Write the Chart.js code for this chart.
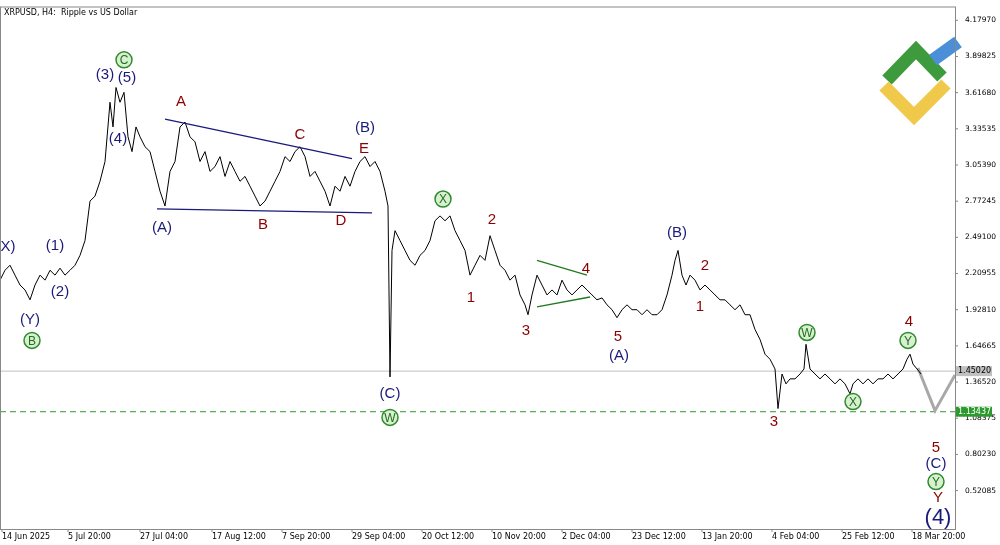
<!DOCTYPE html>
<html>
<head>
<meta charset="utf-8">
<script src="https://cdn.jsdelivr.net/npm/chart.js@4"></script>
<style>
  html, body { margin: 0; padding: 0; background: #fff; }
  #wrap { width: 1000px; height: 545px; position: relative; }
</style>
</head>
<body>
<div id="wrap"><canvas id="xrpChart" width="1000" height="545"></canvas></div>
<script>
// time position (chart bars) and close price
const barPos = [0,5,10,15,20,25,30,35,40,45,50,55,60,65,70,75,80,85,90,95,100,105,110,113,116,120,124,128,132,136,140,145,150,155,160,165,170,175,180,185,190,195,200,205,210,215,220,225,230,235,240,245,250,255,260,265,270,275,280,285,290,295,300,305,310,315,320,325,330,335,340,345,350,355,360,365,370,375,380,385,388,390,392,395,400,405,410,415,420,425,430,435,440,445,450,455,460,465,470,475,480,485,490,495,500,505,510,515,520,525,528,532,537,542,547,552,557,562,567,572,577,582,587,592,597,602,607,612,617,622,627,632,637,642,647,652,657,662,667,672,675,678,682,686,690,695,700,705,710,715,720,725,730,735,740,745,750,755,760,765,770,775,778,782,786,790,795,800,804,806,810,815,820,825,830,835,840,845,850,853,858,863,868,873,878,883,888,893,898,903,907,910,913,917,921];
const closes = [2.158,2.235,2.274,2.197,2.120,2.082,2.005,2.120,2.197,2.158,2.235,2.197,2.251,2.197,2.235,2.274,2.351,2.466,2.773,2.812,2.927,3.081,3.542,3.350,3.657,3.542,3.619,3.273,3.158,3.350,3.273,3.196,3.158,3.004,2.850,2.735,3.004,3.081,3.350,3.388,3.273,3.234,3.081,3.158,3.004,3.042,3.119,2.965,3.081,3.004,2.927,2.965,2.889,2.812,2.735,2.773,2.850,2.927,3.004,3.119,3.081,3.158,3.196,3.119,2.965,3.004,2.927,2.850,2.735,2.889,2.850,2.965,2.889,3.004,3.081,3.119,3.042,3.081,3.004,2.850,2.735,1.405,2.389,2.543,2.466,2.389,2.312,2.274,2.351,2.389,2.466,2.620,2.658,2.620,2.658,2.543,2.466,2.389,2.197,2.274,2.351,2.312,2.504,2.389,2.274,2.235,2.158,2.197,2.043,1.966,1.889,2.043,2.197,2.120,2.043,2.082,2.043,2.158,2.082,2.043,2.082,2.120,2.082,2.043,2.005,2.020,1.966,1.928,1.866,1.928,1.966,1.928,1.928,1.889,1.928,1.889,1.889,1.928,2.043,2.197,2.312,2.389,2.197,2.120,2.197,2.158,2.082,2.120,2.082,2.043,2.005,2.005,1.966,1.928,1.966,1.889,1.889,1.774,1.697,1.582,1.543,1.467,1.159,1.428,1.351,1.390,1.390,1.428,1.467,1.659,1.467,1.428,1.390,1.428,1.390,1.351,1.390,1.351,1.274,1.351,1.390,1.351,1.390,1.351,1.390,1.390,1.428,1.390,1.428,1.467,1.543,1.582,1.505,1.467,1.428];

const priceTicks = [4.17970,3.89825,3.61680,3.33535,3.05390,2.77245,2.49100,2.20955,1.92810,1.64665,1.36520,1.08375,0.80230,0.52085];
const timeTicks = [2,68,140,212,282,352,422,492,562,632,702,772,842,912];
const timeLabels = ["14 Jun 2025","5 Jul 20:00","27 Jul 04:00","17 Aug 12:00","7 Sep 20:00","29 Sep 04:00","20 Oct 12:00","10 Nov 20:00","2 Dec 04:00","23 Dec 12:00","13 Jan 20:00","4 Feb 04:00","25 Feb 12:00","18 Mar 20:00"];

const bidPrice = 1.45020;
const targetLevel = 1.13437;
// projected path after last bar
const projX = [918, 935, 955];
const projY = [1.475, 1.143, 1.420];

// wave labels: text, bar, price, color ("b" blue, "r" red, "g" green circled)
const waveLabels = [
  ["X)",8,2.420,"b"],["(Y)",30,1.851,"b"],["B",32,1.689,"g"],["(1)",55,2.427,"b"],["(2)",60,2.066,"b"],
  ["(3)",105,3.757,"b"],["(5)",127,3.734,"b"],["C",124,3.872,"g"],["(4)",118,3.257,"b"],
  ["A",181,3.542,"r"],["C",300,3.288,"r"],["E",364,3.181,"r"],["(B)",365,3.342,"b"],
  ["(A)",162,2.566,"b"],["B",263,2.589,"r"],["D",341,2.620,"r"],
  ["X",443,2.789,"g"],["2",492,2.627,"r"],["1",471,2.020,"r"],["3",526,1.767,"r"],["4",586,2.243,"r"],
  ["5",618,1.713,"r"],["(A)",619,1.567,"b"],["(B)",677,2.527,"b"],["2",705,2.266,"r"],["1",700,1.951,"r"],
  ["W",807,1.751,"g"],["4",909,1.836,"r"],["Y",908,1.689,"g"],["X",853,1.213,"g"],
  ["(C)",390,1.275,"b"],["W",390,1.090,"g"],["3",774,1.052,"r"],
  ["5",936,0.852,"r"],["(C)",936,0.729,"b"],["Y",936,0.591,"g"],["Y",938,0.461,"r"],["(4)",938,0.306,"big"]
];
// trend lines: [x1,p1,x2,p2,color]
const trendLines = [
  [165,3.411,352,3.104,"#1a1a7a"],
  [157,2.712,372,2.681,"#1a1a7a"],
  [537,2.312,587,2.197,"#1f7a1f"],
  [537,1.950,590,2.027,"#1f7a1f"]
];

const overlay = {
  id: "overlay",
  beforeDatasetsDraw(chart) {
    const { ctx, chartArea: a, scales: { x, y } } = chart;
    ctx.save();
    // bid line
    ctx.strokeStyle = "#c0c0c0"; ctx.lineWidth = 1;
    ctx.beginPath(); ctx.moveTo(a.left, y.getPixelForValue(bidPrice)); ctx.lineTo(a.right, y.getPixelForValue(bidPrice)); ctx.stroke();
    // target dashed
    ctx.strokeStyle = "#2e9a2e"; ctx.setLineDash([6, 4]);
    ctx.beginPath(); ctx.moveTo(a.left, y.getPixelForValue(targetLevel)); ctx.lineTo(a.right, y.getPixelForValue(targetLevel)); ctx.stroke();
    ctx.setLineDash([]);
    // logo
    ctx.lineCap = "butt"; ctx.lineWidth = 13;
    ctx.strokeStyle = "#3d9a3d";
    ctx.beginPath(); ctx.moveTo(887, 80); ctx.lineTo(916, 50); ctx.lineTo(942, 77); ctx.stroke();
    ctx.strokeStyle = "#4a8fd8";
    ctx.beginPath(); ctx.moveTo(933, 60); ctx.lineTo(958, 42); ctx.stroke();
    ctx.strokeStyle = "#f0c94a";
    ctx.beginPath(); ctx.moveTo(884, 86); ctx.lineTo(914, 116); ctx.lineTo(946, 84); ctx.stroke();
    ctx.restore();
  },
  afterDatasetsDraw(chart) {
    const { ctx, chartArea: a, scales: { x, y } } = chart;
    ctx.save();
    trendLines.forEach(t => {
      ctx.strokeStyle = t[4]; ctx.lineWidth = 1.3;
      ctx.beginPath(); ctx.moveTo(x.getPixelForValue(t[0]), y.getPixelForValue(t[1]));
      ctx.lineTo(x.getPixelForValue(t[2]), y.getPixelForValue(t[3])); ctx.stroke();
    });
    ctx.textAlign = "center"; ctx.textBaseline = "middle";
    waveLabels.forEach(([t, bx, p, c]) => {
      const px = x.getPixelForValue(bx), py = y.getPixelForValue(p);
      if (c === "g") {
        ctx.fillStyle = "#d9f0d0"; ctx.strokeStyle = "#2e8b2e"; ctx.lineWidth = 1.5;
        ctx.beginPath(); ctx.arc(px, py, 8, 0, Math.PI * 2); ctx.fill(); ctx.stroke();
        ctx.fillStyle = "#1f6f1f"; ctx.font = "12px 'Liberation Sans'";
        ctx.fillText(t, px, py + 1);
      } else if (c === "big") {
        ctx.fillStyle = "#1a1a7a"; ctx.font = "22px 'Liberation Sans'";
        ctx.fillText(t, px, py);
      } else {
        ctx.fillStyle = c === "b" ? "#1a1a7a" : "#8b0000";
        ctx.font = "15px 'Liberation Sans'";
        ctx.fillText(t, px, py);
      }
    });
    // frame
    ctx.strokeStyle = "#888"; ctx.lineWidth = 1;
    ctx.strokeRect(a.left + 0.5, a.top + 0.5, a.right - a.left, a.bottom - a.top);
    // title
    ctx.textAlign = "left"; ctx.fillStyle = "#000"; ctx.font = "8px 'DejaVu Sans'";
    ctx.fillText("XRPUSD, H4:  Ripple vs US Dollar", a.left + 4, a.top + 6);
    // time axis labels
    ctx.textBaseline = "top"; ctx.textAlign = "left";
    timeTicks.forEach((v, i) => {
      const px = x.getPixelForValue(v);
      ctx.fillText(timeLabels[i], px, a.bottom + 4);
      ctx.beginPath(); ctx.moveTo(px, a.bottom); ctx.lineTo(px, a.bottom + 3); ctx.stroke();
    });
    // price ticks
    ctx.textBaseline = "middle";
    priceTicks.forEach(v => {
      const py = y.getPixelForValue(v);
      ctx.beginPath(); ctx.moveTo(a.right, py); ctx.lineTo(a.right + 3, py); ctx.stroke();
    });
    // price boxes
    [[bidPrice, "#c0c0c0", "#000"], [targetLevel, "#2e9a2e", "#fff"]].forEach(([v, bg, fg]) => {
      const py = y.getPixelForValue(v);
      ctx.fillStyle = bg; ctx.fillRect(a.right + 1, py - 5, 36, 10);
      ctx.fillStyle = fg; ctx.fillText(v.toFixed(5), a.right + 3, py);
    });
    ctx.restore();
  }
};

new Chart(document.getElementById("xrpChart"), {
  type: "line",
  data: {
    datasets: [
      {
        data: barPos.map((b, i) => ({ x: b, y: closes[i] })),
        borderColor: "#000", borderWidth: 1, pointRadius: 0, tension: 0
      },
      {
        data: projX.map((b, i) => ({ x: b, y: projY[i] })),
        borderColor: "#a8a8a8", borderWidth: 3, pointRadius: 0, tension: 0
      }
    ]
  },
  options: {
    responsive: false,
    animation: false,
    layout: { padding: { left: 0, top: 3, right: 2, bottom: 0 } },
    plugins: { legend: { display: false }, tooltip: { enabled: false } },
    scales: {
      x: {
        type: "linear", min: 0, max: 955,
        grid: { display: false },
        border: { display: false },
        afterFit: s => { s.height = 16; },
        ticks: { display: false }
      },
      y: {
        position: "right", min: 0.222, max: 4.287,
        grid: { display: false },
        border: { display: false },
        afterBuildTicks: s => { s.ticks = priceTicks.map(v => ({ value: v })); },
        afterFit: s => { s.width = 43; },
        ticks: { color: "#000", font: { size: 7.5, family: "DejaVu Sans" }, padding: 2, callback: v => v.toFixed(5) }
      }
    }
  },
  plugins: [overlay]
});
</script>
</body>
</html>
